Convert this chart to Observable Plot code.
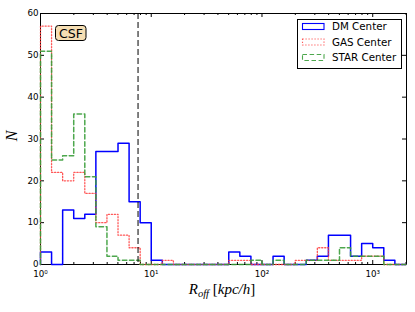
<!DOCTYPE html>
<html><head><meta charset="utf-8">
<script src="https://cdn.jsdelivr.net/npm/d3@7"></script>
<script src="https://cdn.jsdelivr.net/npm/@observablehq/plot@0.6"></script>
<style>html,body{margin:0;padding:0;background:#fff} svg{display:block}</style>
</head><body><div id="chart"></div>
<script>
// ---- data ----
const binLogEdges = [0,0.1,0.2,0.3,0.4,0.5,0.6,0.7,0.8,0.9,1.0,1.1,1.2,1.3,1.4,1.5,1.6,1.7,1.8,1.9,2.0,2.1,2.2,2.3,2.4,2.5,2.6,2.7,2.8,2.9,3.0,3.1,3.2,3.3];
const dmCounts   = [3,0,13,11,12,27,27,29,15,10,1,0,0,0,0,0,0,3,2,0,0,2,0,0,1,2,7,7,2,5,4,1,0];
const gasCounts  = [57,22,20,22,17,10,12,7,4,0,0,1,0,0,0,0,0,1,1,0,0,0,0,1,1,4,1,1,1,2,2,0,0];
const starCounts = [51,25,26,36,21,9,2,1,1,0,0,0,0,0,0,0,0,0,0,1,0,1,0,0,1,1,1,4,2,2,2,0,0];
const seriesNames = ["DM Center","GAS Center","STAR Center"];
const xMajorTicks = [1,10,100,1000];
const xTickLabels = ["10\u2070","10\u00b9","10\u00b2","10\u00b3"];
const yTicks = [0,10,20,30,40,50,60];
const cutRadius = [7.6];
const annotationText = "CSF";
const xLabelParts = [["R","i",""],["off","i","sub"],[" [","n",""],["kpc/h","i",""],["]","n",""]];
const yLabelText = "N";

// ---- styles ----
const colors = ["#0000ff","#ff3b3b","#3a9d3a"];
const dashes = [null,"1.2,1.8","4.5,2.6"];
const widths = [1.5,1.3,1.5];
const opac = [1,0.85,0.9];
const W=415,H=312,mL=40,mR=9,mT=13,mB=48;
const plotH=H-mT-mB;
const edges = binLogEdges.map(e=>10**e);
function outline(counts){
  const pts=[{x:edges[0],y:0}];
  counts.forEach((c,i)=>{pts.push({x:edges[i],y:c});pts.push({x:edges[i+1],y:c});});
  pts.push({x:edges[edges.length-1],y:0});
  return pts;
}
const allCounts=[dmCounts,gasCounts,starCounts];
const xMinor = xMajorTicks.flatMap(d=>[2,3,4,5,6,7,8,9].map(m=>m*d)).filter(v=>v<=10**3.305);

const chart = Plot.plot({
  width:W,height:H,marginLeft:mL,marginRight:mR,marginTop:mT,marginBottom:mB,
  style:{background:"white",fontFamily:"DejaVu Sans",fontSize:"8.7px",color:"black",overflow:"visible"},
  x:{type:"log",domain:[1,10**3.305],axis:null},
  y:{domain:[0,60],axis:null},
  marks:[
    Plot.frame({stroke:"black",strokeWidth:1}),
    Plot.tickX(xMajorTicks,{x:d=>d,insetTop:plotH-4,stroke:"black"}),
    Plot.tickX(xMajorTicks,{x:d=>d,insetBottom:plotH-4,stroke:"black"}),
    Plot.tickX(xMinor,{x:d=>d,insetTop:plotH-2,stroke:"black"}),
    Plot.tickX(xMinor,{x:d=>d,insetBottom:plotH-2,stroke:"black"}),
    Plot.tickY(yTicks,{y:d=>d,insetRight:W-mL-mR-4,stroke:"black"}),
    Plot.tickY(yTicks,{y:d=>d,insetLeft:W-mL-mR-4,stroke:"black"}),
    Plot.text(yTicks,{y:d=>d,text:d=>String(d),frameAnchor:"left",textAnchor:"end",dx:-2,fill:"black"}),
    Plot.text(xMajorTicks,{x:d=>d,text:(d,i)=>xTickLabels[i],frameAnchor:"bottom",lineAnchor:"top",dy:6,fill:"black"}),
    ...allCounts.map((c,i)=>Plot.line(outline(c),{x:"x",y:"y",stroke:colors[i],strokeWidth:widths[i],strokeDasharray:dashes[i],strokeOpacity:opac[i]})),
    Plot.ruleX(cutRadius,{stroke:"black",strokeWidth:1,strokeDasharray:"6,3"})
  ]
});
document.getElementById("chart").appendChild(chart);

const svg = d3.select(chart);
// x label
const xl = svg.append("text").attr("x",222).attr("y",294).attr("text-anchor","middle")
  .attr("font-family","Liberation Serif").attr("font-size",15).attr("fill","black");
xLabelParts.forEach(([t,st,pos])=>{
  const ts = xl.append("tspan").text(t).attr("font-style",st==="i"?"italic":"normal");
  if(pos==="sub"){ts.attr("font-size",10.5).attr("dy",3);}
  else if(t===" ["){ts.attr("dy",-3);}
});
// y label
svg.append("text").attr("transform","translate(17,136) rotate(-90)").attr("text-anchor","middle")
  .attr("font-family","Liberation Serif").attr("font-style","italic").attr("font-size",16).attr("fill","black").text(yLabelText);
// annotation box
const ann = svg.append("g");
ann.append("rect").attr("x",55.5).attr("y",25.5).attr("width",30.5).attr("height",15).attr("rx",3)
  .attr("fill","#f5deb3").attr("stroke","black").attr("stroke-width",1);
ann.append("text").attr("x",71).attr("y",37.5).attr("text-anchor","middle").attr("font-family","DejaVu Sans")
  .attr("font-size",12.5).attr("fill","black").text(annotationText);
// legend
const lg = svg.append("g");
lg.append("rect").attr("x",297.5).attr("y",19.5).attr("width",104).attr("height",49)
  .attr("fill","white").attr("stroke","black").attr("stroke-width",1);
seriesNames.forEach((n,i)=>{
  const cy = 26.5 + i*15.5;
  lg.append("rect").attr("x",302.5).attr("y",cy-3).attr("width",21.5).attr("height",6).attr("fill","none")
    .attr("stroke",colors[i]).attr("stroke-width",1.1).attr("stroke-dasharray",dashes[i]).attr("stroke-opacity",opac[i]);
  lg.append("text").attr("x",332).attr("y",cy+3.7).attr("text-anchor","start").attr("font-family","DejaVu Sans").attr("font-size",10.3)
    .attr("fill","black").text(n);
});
</script></body></html>
